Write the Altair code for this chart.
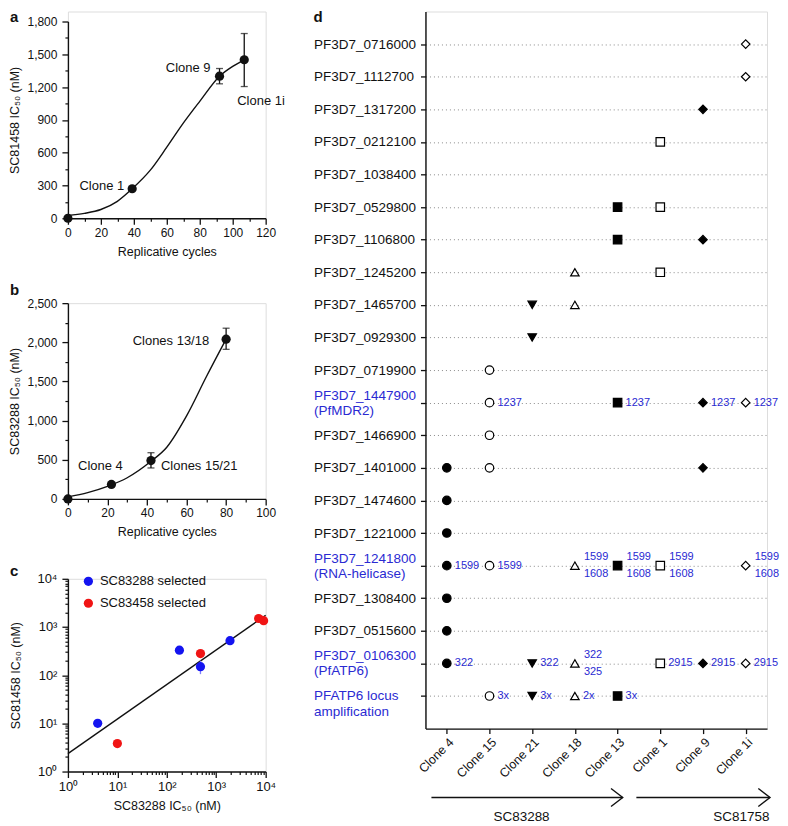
import altair as alt
import pandas as pd

FONT = "Liberation Sans"
INK = "#111111"
NOTE_BLUE = "#2a2ad2"

# ---------------- panel a ----------------
a_cycles = [0, 39, 92, 107]
a_ic50 = [0, 270, 1300, 1450]
a_err_low = [0, 270, 1230, 1205]
a_err_high = [0, 270, 1370, 1690]
a_names = ["Parent", "Clone 1", "Clone 9", "Clone 1i"]
a_fit_x = [0, 10, 20, 30, 39, 50, 60, 70, 80, 92, 100, 107]
a_fit_y = [25, 45, 80, 155, 270, 440, 650, 870, 1070, 1300, 1390, 1450]
a_x_major = [0, 20, 40, 60, 80, 100, 120]
a_x_minor = [10, 30, 50, 70, 90, 110]
a_y_major = [0, 300, 600, 900, 1200, 1500, 1800]
a_y_minor = [150, 450, 750, 1050, 1350, 1650]

# ---------------- panel b ----------------
b_cycles = [0, 22, 42, 80]
b_ic50 = [0, 185, 490, 2040]
b_err_low = [0, 185, 395, 1910]
b_err_high = [0, 185, 590, 2180]
b_names = ["Parent", "Clone 4", "Clones 15/21", "Clones 13/18"]
b_fit_x = [0, 10, 20, 30, 42, 50, 60, 70, 80]
b_fit_y = [25, 80, 160, 270, 480, 660, 1060, 1560, 2040]
b_x_major = [0, 20, 40, 60, 80, 100]
b_x_minor = [10, 30, 50, 70, 90]
b_y_major = [0, 500, 1000, 1500, 2000, 2500]
b_y_minor = [250, 750, 1250, 1750, 2250]

# ---------------- panel c ----------------
c_series = ["SC83288 selected", "SC83458 selected"]
c_blue_x = [4, 180, 480, 1900]
c_blue_y = [10, 330, 150, 520]
c_red_x = [10, 480, 7200, 9100]
c_red_y = [3.8, 280, 1500, 1350]
c_err_x = [480]
c_err_low = [105]
c_err_high = [200]
c_fit_x = [1, 10000]
c_fit_y = [2.35, 1750]
c_major = [1, 10, 100, 1000, 10000]
c_minor = [2, 3, 4, 5, 6, 7, 8, 9, 20, 30, 40, 50, 60, 70, 80, 90,
           200, 300, 400, 500, 600, 700, 800, 900,
           2000, 3000, 4000, 5000, 6000, 7000, 8000, 9000]

# ---------------- panel d ----------------
clones = ["Clone 4", "Clone 15", "Clone 21", "Clone 18", "Clone 13", "Clone 1", "Clone 9", "Clone 1i"]
clone_shapes = ["circle", "circle", "triangle-down", "triangle-up", "square", "square", "diamond", "diamond"]
clone_fills = ["#000000", "#ffffff", "#000000", "#ffffff", "#000000", "#ffffff", "#000000", "#ffffff"]
genes = ["PF3D7_0716000", "PF3D7_1112700", "PF3D7_1317200", "PF3D7_0212100", "PF3D7_1038400",
         "PF3D7_0529800", "PF3D7_1106800", "PF3D7_1245200", "PF3D7_1465700", "PF3D7_0929300",
         "PF3D7_0719900", "PF3D7_1447900|(PfMDR2)", "PF3D7_1466900", "PF3D7_1401000",
         "PF3D7_1474600", "PF3D7_1221000", "PF3D7_1241800|(RNA-helicase)", "PF3D7_1308400",
         "PF3D7_0515600", "PF3D7_0106300|(PfATP6)", "PFATP6 locus|amplification"]
hit_gene = [0, 1, 2, 3, 5, 5, 6, 6, 7, 7, 8, 8, 9, 10,
            11, 11, 11, 11, 12, 13, 13, 13, 14, 15,
            16, 16, 16, 16, 16, 16, 17, 18,
            19, 19, 19, 19, 19, 19, 20, 20, 20, 20]
hit_clone = ["Clone 1i", "Clone 1i", "Clone 9", "Clone 1", "Clone 13", "Clone 1", "Clone 13", "Clone 9",
             "Clone 18", "Clone 1", "Clone 21", "Clone 18", "Clone 21", "Clone 15",
             "Clone 15", "Clone 13", "Clone 9", "Clone 1i", "Clone 15", "Clone 4", "Clone 15", "Clone 9",
             "Clone 4", "Clone 4",
             "Clone 4", "Clone 15", "Clone 18", "Clone 13", "Clone 1", "Clone 1i", "Clone 4", "Clone 4",
             "Clone 4", "Clone 21", "Clone 18", "Clone 1", "Clone 9", "Clone 1i",
             "Clone 15", "Clone 21", "Clone 18", "Clone 13"]
hit_note = ["", "", "", "", "", "", "", "", "", "", "", "", "", "",
            "1237", "1237", "1237", "1237", "", "", "", "", "", "",
            "1599", "1599", "1599|1608", "1599|1608", "1599|1608", "1599|1608", "", "",
            "322", "322", "322|325", "2915", "2915", "2915",
            "3x", "3x", "2x", "3x"]
drugs = ["SC83288", "SC81758"]
drug_from = [-0.36, 4.44]
drug_to = [4.12, 7.57]
drug_label_at = [1.75, 6.9]
letters = ["a", "b", "c", "d"]

LW = 198      # left panel plot width
DW = 342      # panel d plot width
DH = 718      # panel d plot height


def ax(**kw):
    base = dict(domainColor=INK, domainWidth=1.4, tickColor=INK, tickWidth=1.3,
                labelColor=INK, titleColor=INK, labelFont=FONT, titleFont=FONT,
                labelFontSize=12, titleFontSize=12.5, titleFontWeight="normal",
                grid=False, labelFlush=False)
    base.update(kw)
    return alt.Axis(**base)


def minor_ax(vals, orient):
    return alt.Axis(values=vals, orient=orient, labels=False, domain=False, title=None,
                    ticks=True, tickSize=3, tickColor=INK, tickWidth=1.2, grid=False)


def letter_layer(letter, x, y):
    return alt.Chart(pd.DataFrame({"t": [letter]})).mark_text(
        align="left", baseline="alphabetic", fontSize=15, fontWeight="bold", font=FONT, color=INK
    ).encode(x=alt.value(x), y=alt.value(y), text="t:N")


def growth_panel(cyc, ic, lo, hi, names, fx, fy, xmaj, xmin, ymaj, ymin, ytitle,
                 letter, letter_y, notes, h, top_gap=0):
    xs = alt.Scale(domain=[xmaj[0], xmaj[-1]], nice=False)
    if top_gap:
        ys = alt.Scale(domain=[ymaj[0], ymaj[-1]], nice=False, range=[h + top_gap, top_gap])
    else:
        ys = alt.Scale(domain=[ymaj[0], ymaj[-1]], nice=False)
    pts = pd.DataFrame({"cyc": cyc, "ic": ic, "lo": lo, "hi": hi, "name": names})
    fit = pd.DataFrame({"cyc": fx, "ic": fy})
    line = alt.Chart(fit).mark_line(color=INK, strokeWidth=1.4, interpolate="monotone").encode(
        x=alt.X("cyc:Q", scale=xs, axis=ax(values=xmaj, orient="bottom", title="Replicative cycles",
                                           tickSize=6, labelPadding=3, titlePadding=7)),
        y=alt.Y("ic:Q", scale=ys, axis=ax(values=ymaj, orient="left", format=",.0f", title=ytitle,
                                          tickSize=6, labelPadding=5, titlePadding=5)),
    )
    dots = alt.Chart(pts).mark_circle(size=85, color=INK, opacity=1).encode(
        x=alt.X("cyc:Q", scale=xs, axis=minor_ax(xmin, "bottom")),
        y=alt.Y("ic:Q", scale=ys, axis=minor_ax(ymin, "left")),
    )
    ebase = alt.Chart(pts).transform_filter("datum.hi > datum.lo")
    err = ebase.mark_rule(color=INK, strokeWidth=1.3).encode(
        x=alt.X("cyc:Q", scale=xs, axis=None),
        y=alt.Y("lo:Q", scale=ys, axis=None), y2="hi:Q")
    cap_lo = ebase.mark_tick(orient="horizontal", size=7, thickness=1.3, color=INK).encode(
        x=alt.X("cyc:Q", scale=xs, axis=None), y=alt.Y("lo:Q", scale=ys, axis=None))
    cap_hi = ebase.mark_tick(orient="horizontal", size=7, thickness=1.3, color=INK).encode(
        x=alt.X("cyc:Q", scale=xs, axis=None), y=alt.Y("hi:Q", scale=ys, axis=None))
    note_layers = []
    for name, align, dx, dy in notes:
        note_layers.append(
            alt.Chart(pts).transform_filter(f"datum.name == '{name}'").mark_text(
                align=align, baseline="middle", dx=dx, dy=dy, fontSize=13, font=FONT, color=INK
            ).encode(x=alt.X("cyc:Q", scale=xs, axis=None), y=alt.Y("ic:Q", scale=ys, axis=None),
                     text="name:N"))
    return alt.layer(line, err, cap_lo, cap_hi, dots, *note_layers,
                     letter_layer(letter, -58, letter_y)).resolve_axis(
        x="independent", y="independent").properties(width=LW, height=h + top_gap)


pa = growth_panel(a_cycles, a_ic50, a_err_low, a_err_high, a_names, a_fit_x, a_fit_y,
                  a_x_major, a_x_minor, a_y_major, a_y_minor, "SC81458 IC₅₀ (nM)",
                  letters[0], 10,
                  [("Clone 1", "right", -8, -3), ("Clone 9", "right", -9, -8),
                   ("Clone 1i", "left", -7, 41)], 197, top_gap=10)
pb = growth_panel(b_cycles, b_ic50, b_err_low, b_err_high, b_names, b_fit_x, b_fit_y,
                  b_x_major, b_x_minor, b_y_major, b_y_minor, "SC83288 IC₅₀ (nM)",
                  letters[1], -8,
                  [("Clone 4", "center", -11, -18), ("Clones 15/21", "left", 10, 5),
                   ("Clones 13/18", "right", -17, 2)], 196)

# ---- panel c ----
sup = "datum.value == 1 ? '10⁰' : datum.value == 10 ? '10¹' : datum.value == 100 ? '10²' : datum.value == 1000 ? '10³' : datum.value == 10000 ? '10⁴' : ''"
cxs = alt.Scale(type="log", domain=[1, 10000], nice=False)
cys = alt.Scale(type="log", domain=[1, 10000], nice=False)
c_pts = pd.DataFrame({
    "x": c_blue_x + c_red_x,
    "y": c_blue_y + c_red_y,
    "sel": [c_series[0]] * len(c_blue_x) + [c_series[1]] * len(c_red_x),
})
c_fit = pd.DataFrame({"x": c_fit_x, "y": c_fit_y})
c_err = pd.DataFrame({"x": c_err_x, "lo": c_err_low, "hi": c_err_high})
c_line = alt.Chart(c_fit).mark_line(color=INK, strokeWidth=1.4).encode(
    x=alt.X("x:Q", scale=cxs, axis=ax(values=c_major, orient="bottom", labelExpr=sup,
                                      labelFontSize=13, title="SC83288 IC₅₀ (nM)", tickSize=6,
                                      labelPadding=3, titlePadding=6)),
    y=alt.Y("y:Q", scale=cys, axis=ax(values=c_major, orient="left", labelExpr=sup,
                                      labelFontSize=13, title="SC81458 IC₅₀ (nM)", tickSize=6,
                                      labelPadding=5, titlePadding=14)),
)
c_errbar = alt.Chart(c_err).mark_rule(color="#7f7fff", strokeWidth=1.3).encode(
    x=alt.X("x:Q", scale=cxs, axis=None), y=alt.Y("lo:Q", scale=cys, axis=None), y2="hi:Q")
c_dots = alt.Chart(c_pts).mark_circle(size=85, opacity=1).encode(
    x=alt.X("x:Q", scale=cxs, axis=minor_ax(c_minor, "bottom")),
    y=alt.Y("y:Q", scale=cys, axis=minor_ax(c_minor, "left")),
    color=alt.Color("sel:N", scale=alt.Scale(domain=c_series, range=["#1414f0", "#f01414"]),
                    legend=alt.Legend(orient="none", legendX=14, legendY=-4, title=None,
                                      labelFont=FONT, labelFontSize=13, labelColor=INK,
                                      symbolSize=85, symbolType="circle", symbolStrokeWidth=0,
                                      padding=0, rowPadding=8, labelOffset=5)),
)
pc = alt.layer(c_line, c_errbar, c_dots, letter_layer(letters[2], -58, -3)).resolve_axis(
    x="independent", y="independent").properties(width=LW, height=193)

# ---- panel d ----
dxs = alt.Scale(type="point", domain=clones, padding=0.5)
dys = alt.Scale(type="point", domain=genes, padding=1)
black_genes = [g for g in genes if "|" not in g]
blue_genes = [g for g in genes if "|" in g]
hits = pd.DataFrame({"gene": [genes[i] for i in hit_gene], "clone": hit_clone, "note": hit_note})
ylab = dict(title=None, labelAlign="left", labelPadding=107, tickSize=5, labelFontSize=13.5,
            labelOverlap=False, labelLimit=300, labelBound=False, grid=True,
            gridColor="#8a8a8a", gridDash=[1, 3], gridWidth=1, orient="left")
d_marks = alt.Chart(hits).mark_point(filled=True, stroke="#000000", strokeWidth=1.2, opacity=1,
                                     size=72).encode(
    x=alt.X("clone:N", scale=dxs,
            axis=ax(orient="bottom", title=None, labelAngle=315, labelFontSize=12.5, tickSize=5,
                    labelPadding=2, labelOverlap=False)),
    y=alt.Y("gene:N", scale=dys, axis=ax(values=black_genes, **ylab)),
    shape=alt.Shape("clone:N", scale=alt.Scale(domain=clones, range=clone_shapes), legend=None),
    fill=alt.Fill("clone:N", scale=alt.Scale(domain=clones, range=clone_fills), legend=None),
)
notes_base = alt.Chart(hits).transform_filter("datum.note != ''").transform_calculate(
    lines="split(datum.note, '|')")
# gene names with a second line: centred on the row, except the last one (hangs below)
d_notes_one = notes_base.transform_filter("indexof(datum.note, '|') < 0").mark_text(
    align="left", baseline="middle", dx=8, fontSize=11, font=FONT, color=NOTE_BLUE
).encode(x=alt.X("clone:N", scale=dxs, axis=None),
         y=alt.Y("gene:N", scale=dys,
                 axis=ax(values=blue_genes[:-1], domain=False, labelColor=NOTE_BLUE,
                         labelExpr="split(datum.label, '|')", labelLineHeight=15,
                         labelOffset=-7.5, **ylab)),
         text="lines:N")
d_notes_two = notes_base.transform_filter("indexof(datum.note, '|') >= 0").mark_text(
    align="left", baseline="middle", dx=9, dy=-8.5, fontSize=11, font=FONT, color=NOTE_BLUE,
    lineHeight=17
).encode(x=alt.X("clone:N", scale=dxs, axis=None),
         y=alt.Y("gene:N", scale=dys,
                 axis=ax(values=blue_genes[-1:], domain=False, labelColor=NOTE_BLUE,
                         labelExpr="split(datum.label, '|')", labelLineHeight=16,
                         labelOffset=0, **ylab)),
         text="lines:N")

arr = pd.DataFrame({"drug": drugs, "x0": drug_from, "x1": drug_to, "lx": drug_label_at})
axs = alt.Scale(domain=[-0.5, 7.5], nice=False, zero=False)
arr_rule = alt.Chart(arr).mark_rule(color=INK, strokeWidth=1.5).encode(
    x=alt.X("x0:Q", scale=axs, axis=None), x2="x1:Q", y=alt.value(DH + 69))
arr_head = alt.Chart(arr).mark_point(shape="M-1.3,-1L0,0L-1.3,1", filled=False, size=324,
                                     color=INK, strokeWidth=1.4, opacity=1).encode(
    x=alt.X("x1:Q", scale=axs, axis=None), y=alt.value(DH + 69))
arr_text = alt.Chart(arr).mark_text(fontSize=13.5, font=FONT, color=INK, baseline="middle",
                                    align="center").encode(
    x=alt.X("lx:Q", scale=axs, axis=None), y=alt.value(DH + 89), text="drug:N")

pdd = alt.layer(d_marks, d_notes_one, d_notes_two, arr_rule, arr_head, arr_text,
                letter_layer(letters[3], -112, 10)).resolve_scale(
    x="independent").resolve_axis(y="independent").properties(width=DW, height=DH)

left = alt.vconcat(pa, pb, pc, spacing=24).resolve_scale(color="independent")
chart = alt.hconcat(left, pdd, spacing=27).resolve_scale(
    color="independent", shape="independent", fill="independent").properties(
    padding=0).configure_view(stroke=None, strokeWidth=0).configure(font=FONT)

chart.save("out.html", embed_options={"renderer": "svg", "actions": False})
